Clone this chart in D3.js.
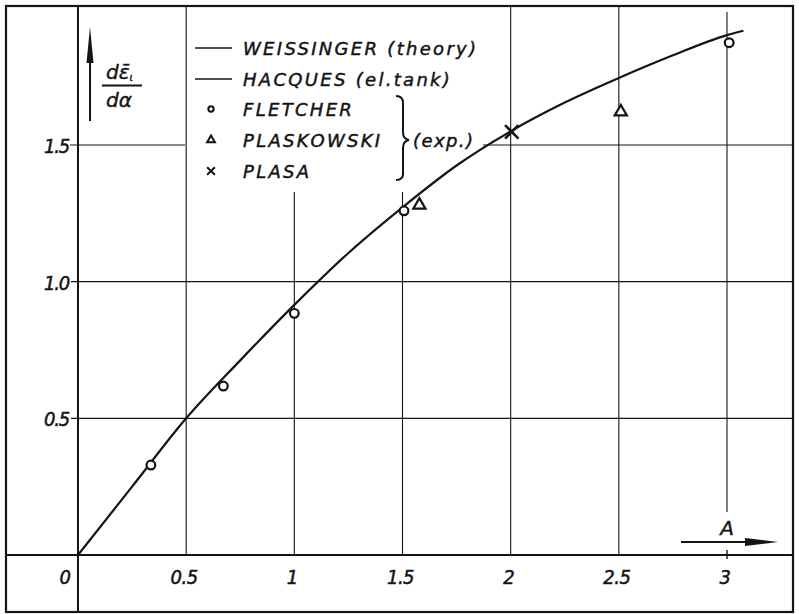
<!DOCTYPE html>
<html><head><meta charset="utf-8">
<script src="https://cdn.jsdelivr.net/npm/d3@7"></script>
<style>
html,body{margin:0;padding:0;background:#fff;}
svg{display:block;}
</style></head>
<body>
<svg id="chart" width="799" height="614"></svg>
<script>
// ---- data ----
const curveA = [0, 0.25, 0.5, 0.75, 1.0, 1.25, 1.5, 1.75, 2.0, 2.25, 2.5, 2.75, 3.0, 3.076];
const curveV = [0, 0.25, 0.5, 0.712, 0.915, 1.105, 1.272, 1.425, 1.55, 1.655, 1.745, 1.828, 1.902, 1.918];
const fletcherA = [0.337, 0.672, 1.0, 1.507, 3.01];
const fletcherV = [0.329, 0.618, 0.884, 1.259, 1.874];
const plaskowskiA = [1.578, 2.509];
const plaskowskiV = [1.28, 1.621];
const plasaA = [2.005];
const plasaV = [1.548];
const xTicks = [0, 0.5, 1, 1.5, 2, 2.5, 3];
const xTickLabels = ["0", "0.5", "1", "1.5", "2", "2.5", "3"];
const yTicks = [0.5, 1.0, 1.5];
const yTickLabels = ["0.5", "1.0", "1.5"];
const legendLines = ["WEISSINGER (theory)", "HACQUES (el.tank)"];
const legendMarkers = ["FLETCHER", "PLASKOWSKI", "PLASA"];
const expLabel = "(exp.)";
const xAxisLabel = "A";

// ---- layout ----
const svg = d3.select("#chart");
const ink = "#141414";
const x = d3.scaleLinear().domain([0, 3]).range([78, 727]);
const y = d3.scaleLinear().domain([0, 2]).range([555, 8.3]);
const frame = {l: 6, t: 6, r: 793, b: 612};
const numFont = '"DejaVu Sans Condensed","Liberation Sans Narrow","DejaVu Sans",sans-serif';
const txtFont = '"DejaVu Sans",sans-serif';

// frame
svg.append("rect").attr("x", frame.l).attr("y", frame.t)
  .attr("width", frame.r - frame.l).attr("height", frame.b - frame.t)
  .attr("fill", "none").attr("stroke", ink).attr("stroke-width", 2.2);

const grid = svg.append("g").attr("stroke", ink).attr("stroke-width", 1.1).attr("fill", "none");

// vertical grid lines (extent in pixel rows)
const vTop = {0.5: frame.t, 1: 192, 1.5: 192, 2: frame.t, 2.5: frame.t, 3: 12};
xTicks.filter(d => d > 0).forEach(d => {
  const bottom = d === 3 ? 512 : y(0);
  grid.append("line").attr("x1", x(d)).attr("x2", x(d)).attr("y1", vTop[d]).attr("y2", bottom);
});
// small tick at 3 on the axis
grid.append("line").attr("x1", x(3)).attr("x2", x(3)).attr("y1", y(0) - 5).attr("y2", y(0) + 4)
  .attr("stroke-width", 1.4);

// horizontal grid lines
yTicks.forEach(d => {
  if (d === 1.5) {
    grid.append("line").attr("x1", x(0) - 8).attr("x2", 185).attr("y1", y(d)).attr("y2", y(d));
    grid.append("line").attr("x1", 483).attr("x2", frame.r).attr("y1", y(d)).attr("y2", y(d));
  } else {
    grid.append("line").attr("x1", x(0) - 7).attr("x2", frame.r).attr("y1", y(d)).attr("y2", y(d));
  }
});

// axes
svg.append("line").attr("x1", x(0)).attr("x2", x(0)).attr("y1", frame.t).attr("y2", frame.b)
  .attr("stroke", ink).attr("stroke-width", 2);
svg.append("line").attr("x1", frame.l).attr("x2", frame.r).attr("y1", y(0)).attr("y2", y(0))
  .attr("stroke", ink).attr("stroke-width", 2.2);

// tick labels
svg.append("g").selectAll("text").data(xTicks).join("text")
  .attr("x", (d, i) => d === 0 ? x(0) - 13 : x(d) - 2)
  .attr("y", 584)
  .attr("text-anchor", "middle")
  .attr("font-family", numFont).attr("font-style", "italic").attr("font-size", 20)
  .attr("letter-spacing", -0.5)
  .attr("fill", ink).attr("stroke", ink).attr("stroke-width", 0.5)
  .text((d, i) => xTickLabels[i]);

svg.append("g").selectAll("text").data(yTicks).join("text")
  .attr("x", 69)
  .attr("y", d => y(d) + 8)
  .attr("text-anchor", "end")
  .attr("font-family", numFont).attr("font-style", "italic").attr("font-size", 20)
  .attr("letter-spacing", -1.2)
  .attr("fill", ink).attr("stroke", ink).attr("stroke-width", 0.5)
  .text((d, i) => yTickLabels[i]);

// curve
const curvePts = curveA.map((a, i) => [a, curveV[i]]);
svg.append("path").datum(curvePts)
  .attr("d", d3.line().x(d => x(d[0])).y(d => y(d[1])).curve(d3.curveMonotoneX))
  .attr("fill", "none").attr("stroke", ink).attr("stroke-width", 2.2);

// markers
const circleSym = d3.symbol().type(d3.symbolCircle).size(60);
const triSym = d3.symbol().type(d3.symbolTriangle).size(64);
const crossSym = d3.symbol().type(d3.symbolX).size(120);

svg.append("g").selectAll("path").data(fletcherA.map((a, i) => [a, fletcherV[i]])).join("path")
  .attr("transform", d => `translate(${x(d[0])},${y(d[1])})`)
  .attr("d", circleSym).attr("fill", "#fff").attr("stroke", ink).attr("stroke-width", 2.2);
svg.append("g").selectAll("path").data(plaskowskiA.map((a, i) => [a, plaskowskiV[i]])).join("path")
  .attr("transform", d => `translate(${x(d[0])},${y(d[1])})`)
  .attr("d", triSym).attr("fill", "#fff").attr("stroke", ink).attr("stroke-width", 2.2);
svg.append("g").selectAll("path").data(plasaA.map((a, i) => [a, plasaV[i]])).join("path")
  .attr("transform", d => `translate(${x(d[0])},${y(d[1])})`)
  .attr("d", crossSym).attr("fill", "none").attr("stroke", ink).attr("stroke-width", 2.6);

// legend
const lg = svg.append("g");
const rowY = [48, 79, 109, 140, 171];
const legendText = (sel) => sel.attr("font-family", txtFont).attr("font-style", "italic")
  .attr("font-size", 18).attr("letter-spacing", 2.3)
  .attr("fill", ink).attr("stroke", ink).attr("stroke-width", 0.45);
legendLines.forEach((t, i) => {
  lg.append("line").attr("x1", 195).attr("x2", 232).attr("y1", rowY[i]).attr("y2", rowY[i])
    .attr("stroke", ink).attr("stroke-width", 1.7);
  lg.append("text").attr("x", 243).attr("y", rowY[i] + 7).call(legendText).text(t);
});
const legSyms = [
  d3.symbol().type(d3.symbolCircle).size(22),
  d3.symbol().type(d3.symbolTriangle).size(26),
  d3.symbol().type(d3.symbolX).size(40)
];
legendMarkers.forEach((t, i) => {
  const yy = rowY[i + 2];
  lg.append("path").attr("transform", `translate(211,${yy})`).attr("d", legSyms[i])
    .attr("fill", "none").attr("stroke", ink).attr("stroke-width", 2);
  lg.append("text").attr("x", 243).attr("y", yy + 7).call(legendText).text(t);
});
// brace
lg.append("path")
  .attr("d", "M396,96 Q403,96 403,103 L403,132 Q403,139 409,140 Q403,141 403,148 L403,174 Q403,180 396,180")
  .attr("fill", "none").attr("stroke", ink).attr("stroke-width", 2);
lg.append("text").attr("x", 413).attr("y", 147).call(legendText)
  .attr("letter-spacing", 1.4).text(expLabel);

// y-axis label: arrow + fraction
svg.append("line").attr("x1", 90).attr("x2", 90).attr("y1", 50).attr("y2", 121)
  .attr("stroke", ink).attr("stroke-width", 2);
svg.append("path").attr("d", "M90,27 L93.5,63 L86.5,63 Z").attr("fill", ink);
const fr = svg.append("g").attr("font-family", txtFont).attr("font-style", "italic")
  .attr("fill", ink).attr("stroke", ink).attr("stroke-width", 0.4);
const num = fr.append("text").attr("x", 106).attr("y", 79).attr("font-size", 20);
num.append("tspan").text("dε\u0304");
num.append("tspan").attr("font-size", 10).attr("dy", 2).text("ι");
fr.append("line").attr("x1", 102).attr("x2", 142).attr("y1", 85.5).attr("y2", 85.5)
  .attr("stroke", ink).attr("stroke-width", 1.8);
fr.append("text").attr("x", 106).attr("y", 107).attr("font-size", 20).text("dα");

// x-axis label + arrow
svg.append("text").attr("x", x(3)).attr("y", 535).attr("text-anchor", "middle")
  .attr("font-family", txtFont).attr("font-style", "italic").attr("font-size", 20)
  .attr("fill", ink).attr("stroke", ink).attr("stroke-width", 0.4).text(xAxisLabel);
svg.append("line").attr("x1", 681).attr("x2", 750).attr("y1", 542).attr("y2", 542)
  .attr("stroke", ink).attr("stroke-width", 2);
svg.append("path").attr("d", "M778,542 L745,538 L745,546 Z").attr("fill", ink);
</script>
</body></html>
